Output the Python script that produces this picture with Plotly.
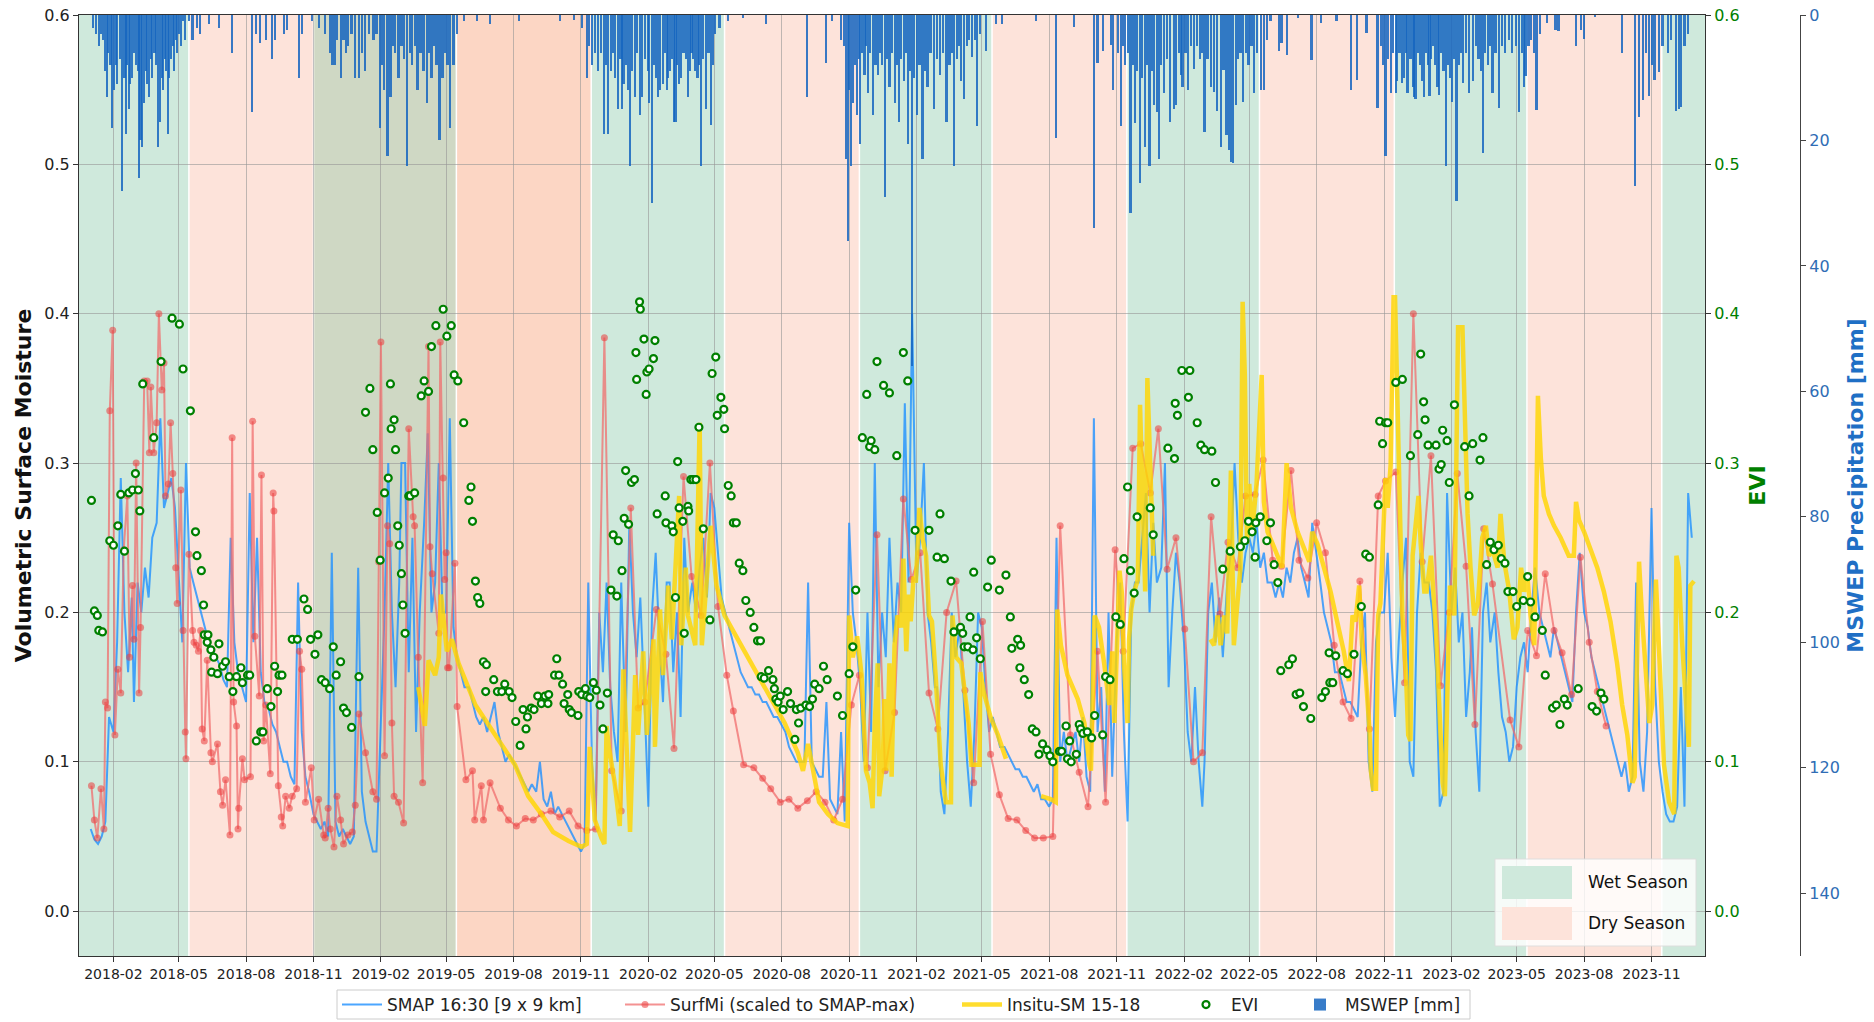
import pandas as pd
import plotly.graph_objects as go

BASE = pd.Timestamp("2018-01-01")  # day 0 for all "day" values below

# ---------------- SMAP 16:30 (6 samples per month: days 1,6,11,16,21,26) ----------------
SMAP_SAMPLE_DAYS = [1, 6, 11, 16, 21, 26]
SMAP_2018 = [.055, .048, .045, .05, .06, .13,
             .12, .18, .29, .2, .16, .21,
             .14, .22, .2, .23, .21, .25,
             .26, .33, .27, .28, .29, .27,
             .22, .18, .3, .23, .22, .21,
             .2, .19, .18, .175, .17, .165,
             .155, .15, .25, .18, .16, .15,
             .14, .28, .18, .25, .16, .14,
             .135, .125, .12, .11, .1, .1,
             .09, .085, .22, .12, .09, .08,
             .065, .06, .055, .06, .05, .24,
             .06, .05, .055, .05, .045, .05]
SMAP_2019 = [.23, .08, .06, .05, .04, .04,
             .12, .2, .3, .2, .15, .22,
             .3, .3, .16, .25, .12, .2,
             .26, .32, .2, .22, .3, .2,
             .2, .33, .19, .17, .16, .15,
             .15, .14, .13, .125, .13, .12,
             .13, .14, .12, .11, .1, .105,
             .1, .095, .09, .085, .08, .085,
             .08, .1, .075, .07, .08, .065,
             .07, .065, .06, .055, .05, .045,
             .04, .045, .22, .1, .06, .2,
             .16, .22, .15, .12, .1, .22]
SMAP_2020 = [.12, .26, .2, .17, .21, .15,
             .07, .2, .24, .18, .14, .22,
             .22, .16, .2, .13, .25, .2,
             .22, .2, .23, .25, .21, .28,
             .27, .24, .21, .2, .19, .18,
             .17, .16, .155, .15, .15, .145,
             .145, .14, .14, .135, .13, .13,
             .125, .12, .11, .105, .1, .1,
             .1, .22, .1, .095, .09, .09,
             .14, .075, .07, .065, .12, .06,
             .26, .2, .18, .15, .1, .2,
             .12, .3, .15, .2, .17, .25]
SMAP_2021 = [.18, .22, .2, .34, .22, .4,
             .22, .25, .3, .2, .18, .15,
             .15, .08, .065, .12, .2, .17,
             .19, .14, .1, .07, .12, .2,
             .19, .15, .12, .13, .12, .11,
             .11, .105, .1, .095, .095, .09,
             .09, .085, .08, .085, .075, .075,
             .07, .075, .25, .1, .12, .1,
             .11, .12, .1, .13, .09, .08,
             .33, .12, .15, .08, .2, .09,
             .18, .22, .12, .06, .2, .22,
             .22, .25, .28, .2, .26, .22]
SMAP_2022 = [.23, .3, .15, .2, .24, .22,
             .18, .12, .1, .15, .1, .07,
             .1, .2, .22, .18, .21, .17,
             .22, .24, .3, .25, .22, .24,
             .25, .24, .26, .23, .24, .22,
             .22, .21, .22, .21, .23, .22,
             .24, .25, .23, .22, .21, .26,
             .24, .22, .2, .19, .18, .16,
             .16, .15, .14, .14, .135, .13,
             .18, .2, .1, .08, .18, .2,
             .2, .24, .17, .13, .18, .22,
             .25, .1, .09, .2, .24, .22]
SMAP_2023 = [.22, .2, .16, .07, .08, .28,
             .2, .23, .18, .2, .13, .16,
             .19, .12, .08, .2, .22, .18,
             .2, .16, .13, .12, .1, .11,
             .15, .17, .18, .16, .2, .23,
             .2, .19, .18, .17, .19, .18,
             .17, .16, .15, .14, .2, .24,
             .2, .19, .17, .16, .15, .14,
             .13, .12, .11, .1, .09, .1,
             .08, .09, .22, .1, .08, .12,
             .27, .15, .1, .08, .065, .06,
             .06, .07, .15, .07, .28, .25]

# ---------------- SurfMi (day, value) ----------------
SURFMI = [(1, .084), (5, .061), (9, .049), (14, .082), (18, .055), (20, .14), (23, .136), (26, .335),
          (30, .389), (33, .118), (37, .162), (41, .146), (45, .242), (50, .278), (53, .17), (57, .218),
          (59, .182), (62, .3), (66, .146), (68, .19), (73, .355), (77, .355), (80, .307), (82, .351),
          (86, .307), (90, .327), (93, .4), (97, .349), (100, .367), (102, .278), (106, .286), (109, .327),
          (112, .293), (116, .23), (118, .206), (123, .282), (126, .188), (129, .12), (130, .102), (134, .239),
          (139, .188), (141, .18), (144, .178), (147, .174), (150, .188), (152, .122), (155, .114), (159, .168),
          (164, .106), (166, .1), (173, .112), (177, .08), (180, .071), (184, .088), (190, .051), (193, .317),
          (195, .14), (199, .124), (201, .055), (202, .069), (207, .102), (210, .088), (218, .09), (221, .328),
          (224, .184), (230, .144), (233, .292), (236, .114), (239, .138), (245, .092), (249, .28), (250, .268),
          (256, .084), (260, .063), (262, .057), (266, .077), (271, .069), (275, .077), (281, .082), (285, .174),
          (288, .162), (293, .073), (301, .096), (305, .061), (311, .075), (318, .051), (320, .049), (324, .069),
          (327, .055), (332, .043), (336, .077), (341, .061), (345, .045), (351, .051), (357, .053), (361, .071),
          (366, .132), (375, .106), (385, .08), (390, .075), (393, .234), (396, .381), (401, .104), (405, .258),
          (408, .246), (411, .126), (414, .077), (420, .073), (427, .059), (434, .323), (440, .264), (442, .258),
          (447, .17), (453, .086), (461, .378), (463, .244), (466, .226), (475, .186), (477, .381), (481, .29),
          (483, .222), (485, .24), (487, .163), (489, .163), (497, .233), (500, .137), (512, .088), (521, .094),
          (524, .061), (533, .084), (536, .061), (545, .086), (559, .069), (570, .061), (581, .057), (593, .062),
          (604, .061), (615, .065), (628, .067), (640, .063), (653, .067), (665, .057), (677, .054), (689, .055),
          (701, .384), (711, .094), (724, .067), (737, .27), (747, .136), (756, .14), (772, .202), (785, .172),
          (796, .109), (809, .291), (820, .224), (833, .198), (845, .3), (856, .204), (868, .158), (877, .134),
          (891, .098), (905, .096), (917, .089), (928, .082), (941, .073), (953, .075), (965, .069), (978, .074),
          (990, .08), (1002, .073), (1014, .061), (1026, .075), (1038, .138), (1049, .158), (1060, .096),
          (1073, .252), (1084, .094), (1097, .133), (1109, .276), (1120, .222), (1132, .24), (1144, .146),
          (1156, .122), (1168, .2), (1181, .221), (1193, .148), (1205, .086), (1217, .194), (1228, .105),
          (1240, .078), (1252, .062), (1264, .061), (1276, .054), (1288, .049), (1300, .049), (1313, .05),
          (1323, .258), (1337, .118), (1349, .093), (1361, .07), (1374, .174), (1385, .073), (1398, .242),
          (1409, .174), (1422, .31), (1433, .313), (1446, .28), (1457, .323), (1469, .229), (1481, .25),
          (1493, .189), (1505, .1), (1517, .106), (1529, .264), (1541, .199), (1552, .247), (1565, .23),
          (1576, .278), (1589, .279), (1600, .302), (1613, .235), (1625, .231), (1638, .295), (1649, .235),
          (1661, .223), (1673, .26), (1685, .24), (1697, .178), (1709, .14), (1720, .129), (1732, .221),
          (1745, .122), (1757, .278), (1767, .288), (1781, .294), (1793, .153), (1805, .4), (1817, .234),
          (1829, .305), (1842, .151), (1854, .2), (1865, .293), (1877, .231), (1889, .125), (1901, .256),
          (1913, .219), (1937, .128), (1949, .11), (1961, .188), (1973, .171), (1985, .226), (1997, .188),
          (2008, .173), (2021, .145), (2033, .237), (2045, .18), (2056, .147), (2068, .124)]

# ---------------- Insitu-SM 15-18 (day, value); None = data gap ----------------
INSITU = [(447, .15), (456, .124), (461, .168), (470, .158), (475, .17), (478, .212), (486, .174), (493, .182),
          (502, .166), (525, .138), (552, .118), (579, .098), (597, .077), (615, .065), (631, .053), (652, .047),
          (670, .043), (677, .045), (681, .11), (688, .061), (697, .049), (701, .045), (704, .124), (707, .11),
          (715, .086), (722, .057), (727, .162), (736, .053), (743, .158), (747, .118), (754, .174), (759, .118),
          (768, .182), (770, .11), (777, .202), (781, .158), (788, .218), (793, .182), (803, .278), (806, .178),
          (812, .23), (815, .198), (825, .178), (831, .327), (834, .178), (846, .258), (854, .218), (865, .198),
          (874, .19), (892, .174), (910, .158), (928, .142), (947, .126), (965, .106), (972, .094), (979, .112),
          (985, .096), (994, .073), (1006, .065), (1019, .059), (1033, .057), (1035, .198), (1040, .17),
          (1046, .184), (1052, .158), (1058, .094), (1063, .086), (1067, .069), (1070, .126), (1074, .166),
          (1076, .077), (1081, .098), (1083, .142), (1086, .094), (1090, .166), (1093, .09), (1097, .178),
          (1101, .198), (1106, .19), (1109, .236), (1113, .174), (1116, .212), (1119, .194), (1123, .224),
          (1126, .22), (1131, .27), (1135, .25), (1140, .238), (1144, .198), (1148, .194), (1153, .158),
          (1160, .098), (1167, .073), (1174, .073), (1176, .198), (1181, .17), (1188, .166), (1192, .15),
          (1198, .126), (1202, .098), (1208, .098), (1213, .098), (1214, .16), (1219, .146), (1228, .13),
          (1238, .118), (1249, .102), (1270, None), (1297, .077), (1310, .075), (1317, .073), (1319, .202),
          (1324, .178), (1333, .158), (1347, .142), (1356, .126), (1363, .098), (1365, .094), (1370, .198),
          (1376, .19), (1383, .166), (1390, .138), (1394, .174), (1397, .126), (1404, .228), (1407, .214),
          (1410, .166), (1415, .126), (1417, .182), (1420, .202), (1424, .214), (1429, .222), (1432, .339),
          (1437, .25), (1439, .214), (1442, .357), (1446, .286), (1450, .238), (1490, None), (1528, .182),
          (1533, .178), (1538, .198), (1542, .178), (1547, .198), (1551, .186), (1556, .295), (1560, .178),
          (1569, .23), (1572, .408), (1575, .359), (1578, .246), (1581, .286), (1585, .254), (1591, .286),
          (1598, .359), (1601, .274), (1606, .254), (1613, .246), (1620, .238), (1626, .23), (1632, .3),
          (1638, .27), (1647, .254), (1656, .242), (1663, .234), (1667, .254), (1674, .246), (1683, .23),
          (1692, .214), (1701, .194), (1710, .174), (1717, .154), (1722, .198), (1726, .194), (1731, .218),
          (1735, .178), (1740, .158), (1745, .122), (1747, .094), (1750, .082), (1754, .082), (1757, .198),
          (1760, .206), (1767, .29), (1770, .27), (1774, .299), (1778, .411), (1780, .411), (1783, .351),
          (1787, .246), (1790, .198), (1795, .158), (1798, .118), (1801, .114), (1804, .238), (1808, .258),
          (1812, .278), (1815, .246), (1820, .214), (1823, .214), (1829, .238), (1836, .186), (1840, .138),
          (1845, .086), (1848, .077), (1852, .158), (1855, .218), (1861, .198), (1866, .391), (1872, .391),
          (1874, .359), (1879, .266), (1883, .23), (1888, .198), (1893, .206), (1899, .25), (1904, .258),
          (1908, .238), (1913, .242), (1920, .23), (1924, .266), (1929, .234), (1936, .214), (1942, .182),
          (1947, .19), (1952, .23), (1956, .214), (1961, .222), (1965, .198), (1970, .178), (1975, .345),
          (1979, .303), (1983, .278), (1990, .266), (1997, .258), (2006, .25), (2017, .238), (2024, .238),
          (2027, .274), (2031, .262), (2038, .254), (2047, .242), (2056, .23), (2065, .214), (2074, .194),
          (2083, .166), (2090, .138), (2097, .118), (2104, .086), (2107, .09), (2113, .234), (2117, .198),
          (2122, .158), (2127, .126), (2131, .138), (2136, .222), (2140, .178), (2147, .098), (2154, .073),
          (2161, .065), (2164, .238), (2167, .23), (2172, .178), (2177, .138), (2181, .11), (2183, .218),
          (2188, .221)]

# ---------------- EVI (day, value) ----------------
EVI = [(1, .275), (5, .201), (9, .198), (11, .188), (16, .187), (26, .248), (31, .245), (37, .258), (41, .279),
       (46, .241), (52, .28), (57, .282), (61, .293), (65, .282), (67, .268), (71, .353), (86, .317), (96, .368),
       (111, .397), (121, .393), (126, .363), (136, .335), (143, .254), (145, .238), (151, .228), (154, .205),
       (155, .185), (159, .18), (160, .185), (164, .175), (165, .16), (168, .17), (173, .159), (175, .179),
       (180, .164), (184, .167), (189, .157), (194, .147), (199, .157), (205, .163), (207, .153), (214, .158),
       (217, .158), (226, .114), (232, .12), (235, .12), (241, .149), (246, .137), (251, .164), (255, .147),
       (257, .158), (261, .158), (275, .182), (282, .182), (291, .209), (296, .202), (300, .182), (306, .172),
       (310, .185), (315, .155), (320, .153), (326, .149), (331, .177), (335, .158), (341, .167), (345, .136),
       (349, .133), (356, .123), (366, .157), (375, .334), (381, .35), (385, .309), (391, .267), (395, .235),
       (401, .28), (406, .29), (409, .353), (410, .323), (414, .329), (416, .309), (419, .258), (421, .245),
       (424, .226), (426, .205), (429, .186), (434, .278), (436, .278), (442, .28), (451, .345), (455, .355),
       (461, .348), (465, .378), (471, .392), (481, .403), (486, .385), (492, .392), (496, .359), (501, .355),
       (509, .327), (516, .275), (519, .284), (521, .261), (525, .221), (528, .21), (531, .206), (536, .167),
       (539, .147), (540, .165), (550, .155), (555, .147), (561, .147), (565, .152), (571, .147), (575, .143),
       (580, .127), (586, .111), (590, .135), (594, .122), (596, .13), (601, .136), (605, .135), (610, .144),
       (615, .139), (620, .144), (624, .139), (625, .145), (633, .158), (636, .169), (639, .158), (644, .152),
       (646, .139), (651, .145), (653, .135), (656, .133), (665, .131), (666, .147), (670, .145), (675, .149),
       (677, .144), (681, .143), (686, .153), (690, .148), (695, .138), (699, .122), (705, .146), (710, .215),
       (713, .252), (718, .211), (720, .248), (725, .228), (728, .263), (730, .295), (734, .259), (738, .287),
       (742, .289), (744, .374), (745, .356), (749, .408), (750, .403), (755, .383), (758, .346), (759, .361),
       (762, .363), (768, .37), (770, .382), (773, .266), (784, .278), (785, .26), (793, .258), (795, .254),
       (798, .21), (801, .301), (803, .27), (808, .261), (810, .186), (815, .271), (816, .268), (819, .289),
       (822, .289), (826, .289), (830, .324), (836, .256), (845, .195), (848, .36), (853, .371), (855, .332),
       (860, .344), (864, .336), (865, .323), (870, .285), (874, .278), (877, .26), (881, .26), (885, .233),
       (890, .228), (894, .208), (900, .2), (905, .19), (910, .181), (914, .181), (915, .157), (919, .156),
       (925, .161), (931, .155), (933, .149), (935, .142), (938, .14), (941, .144), (945, .135), (951, .147),
       (955, .139), (961, .115), (963, .135), (966, .126), (969, .136), (976, .138), (981, .137), (985, .142),
       (988, .152), (994, .149), (1000, .164), (1005, .155), (1019, .144), (1026, .131), (1035, .159),
       (1040, .177), (1044, .215), (1053, .317), (1059, .346), (1063, .311), (1065, .315), (1070, .309),
       (1073, .368), (1082, .352), (1090, .347), (1100, .305), (1109, .374), (1115, .355), (1125, .255),
       (1144, .255), (1155, .237), (1159, .266), (1165, .236), (1174, .221), (1178, .187), (1187, .19),
       (1190, .186), (1192, .177), (1197, .177), (1200, .197), (1204, .175), (1205, .227), (1209, .183),
       (1214, .169), (1224, .217), (1229, .235), (1240, .215), (1249, .225), (1255, .197), (1257, .176),
       (1265, .182), (1268, .163), (1269, .178), (1274, .155), (1280, .145), (1285, .122), (1290, .12),
       (1294, .105), (1299, .112), (1305, .108), (1309, .104), (1313, .1), (1322, .107), (1325, .107),
       (1331, .124), (1333, .102), (1336, .114), (1338, .1), (1345, .105), (1349, .125), (1351, .122),
       (1354, .119), (1360, .12), (1366, .116), (1370, .131), (1381, .118), (1385, .157), (1391, .155),
       (1399, .197), (1405, .192), (1410, .236), (1415, .284), (1419, .228), (1424, .213), (1428, .264),
       (1446, .27), (1450, .252), (1470, .31), (1479, .303), (1480, .34), (1483, .332), (1489, .362),
       (1498, .344), (1500, .362), (1510, .327), (1515, .312), (1520, .309), (1530, .308), (1535, .287),
       (1545, .229), (1555, .241), (1569, .244), (1575, .248), (1580, .261), (1585, .254), (1589, .237),
       (1590, .26), (1596, .264), (1605, .248), (1610, .26), (1615, .232), (1620, .22), (1624, .161),
       (1635, .165), (1640, .169), (1645, .145), (1650, .146), (1655, .137), (1665, .129), (1680, .143),
       (1685, .147), (1690, .173), (1691, .153), (1695, .153), (1699, .171), (1709, .161), (1715, .159),
       (1724, .172), (1734, .204), (1740, .239), (1745, .237), (1757, .272), (1759, .328), (1763, .313),
       (1767, .327), (1770, .327), (1781, .354), (1790, .356), (1801, .305), (1811, .319), (1815, .373),
       (1819, .341), (1821, .329), (1825, .312), (1836, .312), (1840, .296), (1843, .299), (1845, .322),
       (1851, .315), (1854, .287), (1861, .339), (1875, .311), (1881, .278), (1886, .313), (1896, .302),
       (1900, .317), (1905, .232), (1910, .247), (1915, .242), (1921, .245), (1925, .236), (1930, .233),
       (1934, .214), (1941, .214), (1946, .204), (1955, .208), (1961, .224), (1965, .207), (1971, .197),
       (1981, .188), (1985, .158), (1995, .136), (2000, .138), (2005, .125), (2011, .142), (2015, .138),
       (2030, .149), (2049, .137), (2055, .134), (2061, .146), (2065, .142)]

# ---------------- MSWEP daily precipitation (day, mm) ----------------
MSWEP = [(3, 2), (7, 3), (11, 5), (14, 3), (17, 4), (20, 9), (22, 13), (24, 6), (27, 8), (29, 18), (32, 12),
         (34, 8), (36, 11), (40, 7), (43, 28), (46, 10), (48, 19), (50, 8), (52, 15), (54, 11), (56, 10),
         (59, 6), (62, 8), (64, 9), (66, 26), (68, 20), (70, 21), (73, 14), (75, 9), (77, 11), (80, 13),
         (82, 7), (84, 10), (87, 6), (89, 8), (92, 21), (95, 17), (97, 10), (99, 12), (101, 7), (103, 9),
         (105, 19), (107, 10), (110, 7), (112, 5), (114, 9), (116, 4), (118, 6), (121, 3), (123, 5), (126, 1),
         (129, 4), (134, 1), (139, 4), (145, 2), (149, 3), (161, 1.4), (175, 2), (193, 6), (220, 15.5),
         (226, 3), (231, 4.5), (239, 4), (247, 7), (252, 4), (264, 3), (268, 2.4), (284, 10), (288, 3),
         (302, 1), (312, 2), (320, 3), (327, 6), (330, 8), (333, 8), (336, 4), (341, 10), (345, 4), (348, 6),
         (351, 5), (356, 3), (361, 10), (366, 10), (370, 6), (374, 9), (380, 3), (386, 4), (390, 3), (395, 18),
         (398, 8), (400, 12), (405, 22.5), (409, 13), (412, 5), (415, 6), (420, 10), (424, 5), (428, 7),
         (432, 24), (436, 6), (438, 8), (442, 5), (446, 12), (450, 6), (454, 9), (459, 14), (462, 6), (465, 10),
         (469, 5), (472, 8), (476, 20), (480, 10), (484, 6), (487, 8), (490, 18), (495, 8), (500, 3), (509, 1),
         (527, 1), (545, 1.5), (584, 1), (640, 1), (660, 0.8),
         (670, 2), (677, 10), (680, 5), (684, 8), (688, 6), (692, 9), (696, 6), (700, 19), (703, 8), (706, 19),
         (710, 9), (713, 6), (716, 10), (720, 15), (723, 7), (725, 15), (727, 11), (730, 8), (733, 12),
         (736, 24), (739, 9), (743, 13), (746, 6), (750, 16), (752, 13), (756, 7), (760, 9), (762, 14),
         (766, 30), (769, 8), (771, 10), (774, 13), (777, 12), (781, 11), (784, 6), (786, 12), (788, 10),
         (791, 9), (793, 7), (796, 17), (798, 17), (800, 8), (803, 11), (806, 10), (809, 6), (812, 7), (815, 13),
         (818, 9), (820, 6), (822, 7), (825, 9), (828, 10), (830, 8), (833, 24), (836, 7), (840, 15), (843, 6),
         (846, 17.5), (849, 8), (852, 3), (858, 2), (870, 1), (890, 0.5), (922, 1.4), (978, 13), (1003, 7.6),
         (1012, 1), (1024, 4),
         (1028, 5), (1031, 23), (1033, 36), (1035, 12), (1037, 24), (1040, 14), (1043, 8), (1046, 16), (1048, 7),
         (1050, 20.6), (1053, 6), (1056, 9.6), (1058, 5), (1061, 12.4), (1064, 6), (1068, 16), (1071, 8),
         (1074, 9.6), (1077, 6), (1080, 8), (1084, 29), (1087, 7), (1090, 11.5), (1094, 6), (1098, 14),
         (1100, 8), (1103, 17), (1106, 7), (1110, 10.5), (1113, 6), (1115, 20.6), (1118, 9), (1121, 56),
         (1124, 10), (1128, 16), (1131, 8), (1135, 23), (1138, 9), (1142, 11.5), (1146, 6), (1151, 15),
         (1155, 7), (1159, 9.6), (1163, 6), (1168, 17), (1172, 8), (1175, 6), (1178, 24), (1182, 7), (1185, 5),
         (1188, 10.5), (1192, 13.4), (1196, 5), (1199, 4), (1203, 6.7), (1207, 4), (1210, 17.7), (1214, 3),
         (1222, 5.7), (1235, 1.4), (1244, 1.4), (1290, 1), (1317, 19.6), (1342, 1.9), (1369, 34), (1374, 7.6),
         (1381, 5.7), (1392, 4.8), (1395, 12),
         (1402, 6), (1406, 17.7), (1409, 5), (1412, 8), (1416, 6), (1419, 31.5), (1422, 8), (1425, 17.2),
         (1428, 9), (1432, 26.8), (1435, 10), (1439, 21), (1442, 8), (1445, 24), (1448, 9), (1451, 14.3),
         (1455, 15.4), (1458, 22.9), (1461, 8), (1465, 12.4), (1469, 7), (1473, 17), (1478, 15), (1481, 14.3),
         (1485, 6), (1488, 9.6), (1490, 11.4), (1494, 6), (1497, 12), (1501, 5), (1506, 8.6), (1510, 5),
         (1514, 7), (1517, 6), (1520, 18.6), (1524, 7), (1529, 11.5), (1533, 12.2), (1537, 15.3), (1542, 21),
         (1546, 8.8), (1550, 19.1), (1553, 21.5), (1556, 23.4), (1559, 23.6), (1563, 14.3), (1566, 7), (1569, 6),
         (1573, 13.8), (1577, 6), (1580, 8), (1584, 5), (1588, 12.4), (1592, 6), (1597, 12), (1601, 12),
         (1605, 4), (1610, 1), (1622, 5.7), (1625, 4.5), (1633, 6.3), (1648, 0.5), (1666, 7.2), (1679, 1.3),
         (1700, 1), (1720, 12), (1728, 10.4), (1741, 2.9), (1756, 14.8),
         (1761, 5), (1764, 8), (1767, 22.5), (1770, 7), (1774, 12.4), (1777, 6), (1781, 12.5), (1783, 10.5),
         (1786, 6), (1789, 10.9), (1792, 10), (1795, 6), (1797, 12.5), (1801, 7), (1804, 11.5), (1806, 13),
         (1808, 13.4), (1811, 6), (1814, 8), (1817, 10.5), (1819, 13), (1822, 6), (1825, 8), (1827, 12.9),
         (1829, 7), (1832, 5), (1835, 8), (1838, 11.5), (1840, 12.7), (1843, 6), (1846, 9), (1849, 24),
         (1852, 8), (1855, 10), (1858, 13.9), (1861, 7), (1864, 29.7), (1867, 8), (1870, 6), (1873, 10.9),
         (1877, 6), (1881, 12.4), (1886, 10.5), (1890, 5), (1894, 7), (1897, 9), (1900, 22), (1903, 6),
         (1907, 8), (1910, 5), (1913, 12.4), (1917, 6), (1922, 14.9), (1926, 5), (1930, 6), (1935, 4),
         (1940, 6), (1945, 5), (1949, 15.5), (1953, 6), (1956, 11.5), (1958, 9.8), (1962, 5), (1966, 4),
         (1970, 6), (1973, 15.2), (1978, 3), (1987, 1.3), (1999, 2.4), (2003, 2.6), (2027, 5), (2034, 2.4),
         (2038, 3.8), (2053, 0.3), (2090, 6), (2108, 27.3), (2113, 16.3), (2118, 13.5), (2122, 6), (2127, 12.9),
         (2131, 8), (2134, 10.4), (2140, 9.1), (2145, 5), (2152, 6), (2157, 4), (2163, 15.3), (2167, 15),
         (2170, 14.6), (2175, 5), (2180, 3)]

# ---------------- seasons ----------------
SEASON_BOUNDS = ["2017-12-16", "2018-05-15", "2018-11-01", "2019-05-15", "2019-11-15", "2020-05-15",
                 "2020-11-15", "2021-05-15", "2021-11-15", "2022-05-15", "2022-11-15", "2023-05-15",
                 "2023-11-15", "2024-01-13"]
SEASON_KIND = ["wet", "dry", "wet_dry", "dry_dry", "wet", "dry", "wet", "dry", "wet", "dry", "wet", "dry", "wet"]
SEASON_COLOR = {"wet": "#cfe9dc", "dry": "#fde3da", "wet_dry": "#cfd8c4", "dry_dry": "#fcd6c4"}

TICK_DATES = ["2018-02-01", "2018-05-01", "2018-08-01", "2018-11-01", "2019-02-01", "2019-05-01",
              "2019-08-01", "2019-11-01", "2020-02-01", "2020-05-01", "2020-08-01", "2020-11-01",
              "2021-02-01", "2021-05-01", "2021-08-01", "2021-11-01", "2022-02-01", "2022-05-01",
              "2022-08-01", "2022-11-01", "2023-02-01", "2023-05-01", "2023-08-01", "2023-11-01"]
TICK_TEXT = [d[:7] for d in TICK_DATES]
SM_TICKS = [0.0, 0.1, 0.2, 0.3, 0.4, 0.5, 0.6]
MM_TICKS = [0, 20, 40, 60, 80, 100, 120, 140]

# ---------------- build ----------------
def to_dates(days):
    return [BASE + pd.Timedelta(days=d) for d in days]

smap_dates = [pd.Timestamp(y, m, d) for y in range(2018, 2024) for m in range(1, 13) for d in SMAP_SAMPLE_DAYS]
smap_vals = SMAP_2018 + SMAP_2019 + SMAP_2020 + SMAP_2021 + SMAP_2022 + SMAP_2023
assert len(smap_dates) == len(smap_vals)

sf_d, sf_v = zip(*SURFMI)
is_d, is_v = zip(*INSITU)
ev_d, ev_v = zip(*EVI)
pr_d, pr_v = zip(*MSWEP)

W, H = 1874, 1022
ML, MR, MT, MB = 79, 40, 15, 66
PW, PH = W - ML - MR, H - MT - MB
XDOM = (1705 - ML) / PW
Y3POS = (1800 - ML) / PW
FONT = "DejaVu Sans"


def px(X):  # page x -> paper
    return (X - ML) / PW


def py(Y):  # page y -> paper
    return (H - MB - Y) / PH


fig = go.Figure()
fig.add_trace(go.Scatter(x=smap_dates, y=smap_vals, mode="lines", name="SMAP 16:30 [9 x 9 km]",
                         line=dict(color="rgba(30,144,255,0.8)", width=2), legend="legend"))
fig.add_trace(go.Scatter(x=to_dates(sf_d), y=list(sf_v), mode="lines+markers", name="SurfMi (scaled to SMAP-max)",
                         line=dict(color="rgba(240,110,110,0.75)", width=2),
                         marker=dict(size=7, color="rgba(235,60,60,0.55)"), legend="legend2"))
fig.add_trace(go.Scatter(x=to_dates(is_d), y=list(is_v), mode="lines", name="Insitu-SM 15-18",
                         line=dict(color="rgba(255,213,0,0.82)", width=4.5), connectgaps=False, legend="legend3"))
fig.add_trace(go.Scatter(x=to_dates(ev_d), y=list(ev_v), mode="markers", name="EVI", yaxis="y2",
                         marker=dict(symbol="circle", size=7, color="white",
                                     line=dict(color="green", width=2.2)), legend="legend4"))
fig.add_trace(go.Bar(x=to_dates(pr_d), y=list(pr_v), name="MSWEP [mm]", yaxis="y3",
                     width=3 * 86400000, marker=dict(color="rgba(21,101,192,0.85)", line=dict(width=0)),
                     legend="legend5"))

shapes = []
for i, kind in enumerate(SEASON_KIND):
    shapes.append(dict(type="rect", xref="x", yref="paper", x0=SEASON_BOUNDS[i], x1=SEASON_BOUNDS[i + 1],
                       y0=0, y1=1, fillcolor=SEASON_COLOR[kind], line=dict(width=0), layer="below"))
for b in SEASON_BOUNDS[1:-1]:
    shapes.append(dict(type="line", xref="x", yref="paper", x0=b, x1=b, y0=0, y1=1,
                       line=dict(color="white", width=1.5), layer="below"))

# season legend box (inside plot, lower right)
shapes.append(dict(type="rect", xref="paper", yref="paper", x0=px(1495), x1=px(1696), y0=py(946), y1=py(859),
                   fillcolor="rgba(255,255,255,0.8)", line=dict(color="rgba(220,220,220,0.9)", width=1),
                   layer="above"))
shapes.append(dict(type="rect", xref="paper", yref="paper", x0=px(1502), x1=px(1572), y0=py(899), y1=py(866),
                   fillcolor=SEASON_COLOR["wet"], line=dict(width=0), layer="above"))
shapes.append(dict(type="rect", xref="paper", yref="paper", x0=px(1502), x1=px(1572), y0=py(940), y1=py(907),
                   fillcolor=SEASON_COLOR["dry"], line=dict(width=0), layer="above"))
# frame of the bottom series legend
shapes.append(dict(type="rect", xref="paper", yref="paper", x0=px(337), x1=px(1470), y0=py(1019), y1=py(990),
                   fillcolor="white", line=dict(color="#cccccc", width=1), layer="above"))
annotations = [
    dict(text="Wet Season", xref="paper", yref="paper", x=px(1586), y=py(882), xanchor="left", yanchor="middle",
         showarrow=False, font=dict(family=FONT, size=17, color="#111")),
    dict(text="Dry Season", xref="paper", yref="paper", x=px(1586), y=py(923), xanchor="left", yanchor="middle",
         showarrow=False, font=dict(family=FONT, size=17, color="#111")),
]

# one legend per series so each entry sits where the reference puts it
LEGEND_ENTRY_X = [343, 626, 963, 1187, 1301]
legends = {}
for i, ex in enumerate(LEGEND_ENTRY_X):
    key = "legend" if i == 0 else f"legend{i + 1}"
    legends[key] = dict(orientation="h", x=px(ex - 6), xanchor="left", y=py(1005), yanchor="middle",
                        bgcolor="rgba(0,0,0,0)", borderwidth=0, itemwidth=40,
                        font=dict(family=FONT, size=17, color="#222"))

grid = "rgba(150,150,150,0.6)"
fig.update_layout(
    width=W, height=H, margin=dict(l=ML, r=MR, t=MT, b=MB, autoexpand=False),
    paper_bgcolor="white", plot_bgcolor="white",
    font=dict(family=FONT, size=14, color="#222"),
    shapes=shapes, annotations=annotations, bargap=0,
    showlegend=True,
    xaxis=dict(type="date", domain=[0, XDOM], range=["2017-12-16", "2024-01-13"],
               tickvals=TICK_DATES, ticktext=TICK_TEXT, tickfont=dict(size=14),
               showgrid=True, gridcolor=grid, gridwidth=1, showline=True, mirror=True,
               linecolor="#333", linewidth=1.2, ticks="outside", ticklen=5, tickcolor="#333",
               zeroline=False, automargin=False),
    yaxis=dict(range=[-0.03, 0.6], tickvals=SM_TICKS, tickformat=".1f", tickfont=dict(size=16),
               showgrid=True, gridcolor=grid, gridwidth=1, showline=True, mirror=True, linecolor="#333",
               linewidth=1.2, ticks="outside", ticklen=5, tickcolor="#333", zeroline=False, automargin=False,
               ticklabeloverflow="allow",
               title=dict(text="<b>Volumetric Surface Moisture</b>", font=dict(size=22, color="#111"),
                          standoff=6)),
    yaxis2=dict(overlaying="y", side="right", anchor="x", range=[-0.03, 0.6], tickvals=SM_TICKS,
                tickformat=".1f", tickfont=dict(size=16, color="green"), showgrid=False, zeroline=False,
                ticks="outside", ticklen=5, tickcolor="#333", showline=False, automargin=False,
                ticklabeloverflow="allow",
                title=dict(text="<b>EVI</b>", font=dict(size=22, color="green"), standoff=10)),
    yaxis3=dict(overlaying="y", side="right", anchor="free", position=Y3POS, range=[150, 0],
                tickvals=MM_TICKS, tickfont=dict(size=16, color="#2f6db5"), showgrid=False, zeroline=False,
                ticks="outside", ticklen=5, tickcolor="#444", showline=True, linecolor="#444", linewidth=1.2,
                automargin=False, ticklabeloverflow="allow",
                title=dict(text="<b>MSWEP Precipitation [mm]</b>", font=dict(size=22, color="#1f6fc5"),
                           standoff=8)),
    **legends,
)

# remove the browser's default 8px page margin so the figure fills the window exactly
fig.write_html("out.html", config={"displayModeBar": False},
               post_script="document.body.style.margin='0';document.body.style.overflow='hidden';")
